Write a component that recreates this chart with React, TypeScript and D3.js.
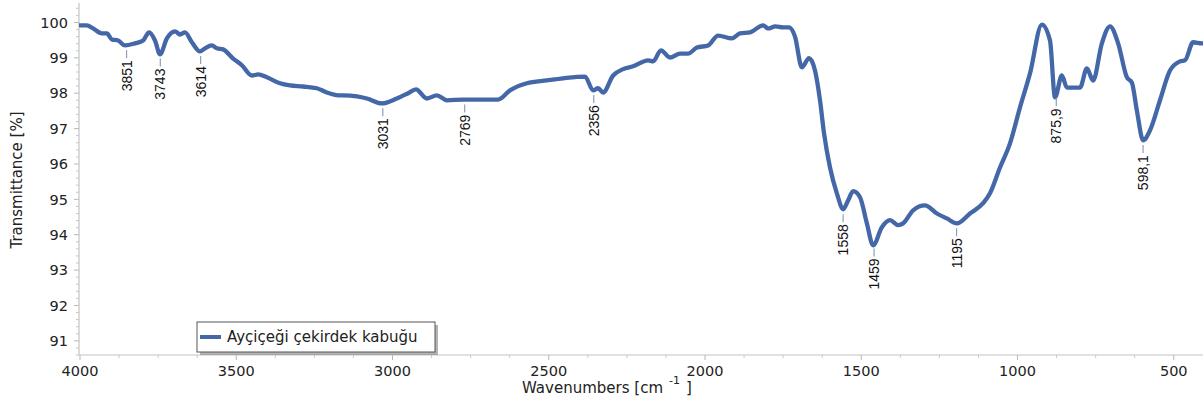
import React from "react";
import * as d3 from "d3";

const wavenumbers = [
  4000, 3978, 3958, 3930, 3914, 3898, 3878, 3856, 3824, 3798, 3779, 3760, 3744, 3722, 3696, 3680, 3664, 3642, 3616, 3600,
  3578, 3562, 3542, 3510, 3482, 3450, 3430, 3402, 3360, 3328, 3286, 3242, 3210, 3174, 3158, 3114, 3082, 3034, 2986, 2950,
  2925, 2890, 2858, 2826, 2774, 2720, 2662, 2624, 2570, 2506, 2454, 2384, 2358, 2342, 2326, 2294, 2262, 2230, 2182, 2166,
  2141, 2112, 2080, 2054, 2026, 1990, 1958, 1914, 1888, 1856, 1814, 1798, 1775, 1750, 1731, 1712, 1690, 1667, 1648, 1632,
  1619, 1600, 1578, 1558, 1542, 1526, 1504, 1482, 1462, 1434, 1408, 1382, 1366, 1334, 1296, 1258, 1226, 1194, 1152, 1110,
  1088, 1056, 1024, 992, 960, 922, 896, 880, 858, 842, 816, 800, 778, 758, 730, 704, 678, 650, 634, 618,
  598, 576, 544, 512, 480, 464, 438, 410, 400,
];
const transmittance = [
  99.92, 99.92, 99.83, 99.69, 99.69, 99.52, 99.49, 99.35, 99.41, 99.49, 99.72, 99.49, 99.1, 99.55, 99.75, 99.66, 99.72, 99.44, 99.18, 99.27,
  99.35, 99.27, 99.24, 98.98, 98.79, 98.5, 98.53, 98.45, 98.28, 98.22, 98.19, 98.14, 98.02, 97.94, 97.94, 97.91, 97.85, 97.71, 97.85, 98.0,
  98.11, 97.85, 97.94, 97.8, 97.82, 97.82, 97.82, 98.08, 98.28, 98.36, 98.42, 98.47, 98.08, 98.14, 98.02, 98.5, 98.68, 98.76, 98.93, 98.9,
  99.21, 99.01, 99.12, 99.12, 99.29, 99.35, 99.63, 99.55, 99.69, 99.72, 99.92, 99.83, 99.89, 99.86, 99.86, 99.6, 98.73, 98.99, 98.64, 97.8,
  96.86, 95.9, 95.17, 94.72, 94.97, 95.23, 95.06, 94.32, 93.7, 94.21, 94.41, 94.27, 94.32, 94.69, 94.83, 94.6, 94.46, 94.32, 94.6, 94.89,
  95.17, 95.9, 96.58, 97.6, 98.56, 99.94, 99.49, 97.88, 98.5, 98.16, 98.16, 98.16, 98.7, 98.36, 99.41, 99.89, 99.41, 98.45, 98.3, 97.51,
  96.67, 96.95, 97.8, 98.64, 98.9, 98.93, 99.44, 99.41, 99.41,
];

const peakPositions = [3851, 3743, 3614, 3031, 2769, 2356, 1558, 1459, 1195, 875.9, 598.1];
const peakLabels = ["3851", "3743", "3614", "3031", "2769", "2356", "1558", "1459", "1195", "875,9", "598,1"];

const xMajorTicks = [4000, 3500, 3000, 2500, 2000, 1500, 1000, 500];
const yMajorTicks = [91, 92, 93, 94, 95, 96, 97, 98, 99, 100];
const seriesName = "Ayçiçeği çekirdek kabuğu";

const W = 1203;
const H = 404;
const AX = "DejaVu Sans, Verdana, sans-serif";
const LINE = "#4467a8";

export default function App() {
  const x = d3.scaleLinear().domain([4000, 400]).range([80, 1205]);
  const y = d3.scaleLinear().domain([90.6, 100.55]).range([355, 3]);
  const data = wavenumbers.map((w, i) => [w, transmittance[i]] as [number, number]);
  const line = d3
    .line<[number, number]>()
    .x((d) => x(d[0]))
    .y((d) => y(d[1]))
    .curve(d3.curveMonotoneX);

  const interp = (w: number) => {
    for (let i = 0; i < wavenumbers.length - 1; i++) {
      const a = wavenumbers[i], b = wavenumbers[i + 1];
      if (w <= a && w >= b) {
        const t = (a - w) / (a - b);
        return transmittance[i] + t * (transmittance[i + 1] - transmittance[i]);
      }
    }
    return transmittance[transmittance.length - 1];
  };

  const xMinor = d3.range(4000, 399, -125).filter((v) => v % 500 !== 0);
  const yMinor = d3.range(90.6, 100.55, 0.2).map((v) => Math.round(v * 10) / 10).filter((v) => Math.abs(v - Math.round(v)) > 0.01);

  const axisX0 = 79;
  const axisY = 355;

  return (
    <svg width={W} height={H} style={{ position: "absolute", left: 0, top: 0, background: "#fff" }}>
      <defs>
        <clipPath id="plot">
          <rect x={axisX0} y={0} width={W - axisX0} height={axisY} />
        </clipPath>
      </defs>
      {/* axes */}
      <line x1={axisX0} x2={axisX0} y1={3} y2={axisY} stroke="#c4c4c4" strokeWidth={1.2} />
      <line x1={axisX0} x2={W} y1={axisY} y2={axisY} stroke="#c4c4c4" strokeWidth={1.2} />
      {yMajorTicks.map((t) => (
        <g key={"ym" + t}>
          <line x1={axisX0 - 5} x2={axisX0} y1={y(t)} y2={y(t)} stroke="#b8b8b8" />
          <text x={68} y={y(t)} dy="0.36em" textAnchor="end" fontFamily={AX} fontSize={14.5} fill="#222">
            {t}
          </text>
        </g>
      ))}
      {yMinor.map((t) => (
        <line key={"yn" + t} x1={axisX0 - 3} x2={axisX0} y1={y(t)} y2={y(t)} stroke="#c8c8c8" />
      ))}
      {xMajorTicks.map((t) => (
        <g key={"xm" + t}>
          <line x1={x(t)} x2={x(t)} y1={axisY} y2={axisY + 5} stroke="#b8b8b8" />
          <text x={x(t)} y={376} textAnchor="middle" fontFamily={AX} fontSize={14.5} fill="#222">
            {t}
          </text>
        </g>
      ))}
      {xMinor.map((t) => (
        <line key={"xn" + t} x1={x(t)} x2={x(t)} y1={axisY} y2={axisY + 3} stroke="#c8c8c8" />
      ))}
      {/* axis titles */}
      <text
        transform={`translate(22,${180}) rotate(-90)`}
        textAnchor="middle"
        fontFamily={AX}
        fontSize={15}
        fill="#222"
      >
        Transmittance [%]
      </text>
      <text x={522} y={393} fontFamily={AX} fontSize={15} fill="#222">
        Wavenumbers [cm
        <tspan dx={6} dy={-9} fontSize={11}>-1</tspan>
        <tspan dx={6} dy={9}>]</tspan>
      </text>
      {/* series */}
      <g clipPath="url(#plot)">
        <path d={line(data) || ""} fill="none" stroke={LINE} strokeWidth={4.3} strokeLinejoin="round" strokeLinecap="round" />
      </g>
      {/* peak annotations */}
      {peakPositions.map((p, i) => {
        const px = x(p);
        const py = y(interp(p)) + 5;
        return (
          <g key={"pk" + i}>
            <line x1={px} x2={px} y1={py} y2={py + 8} stroke="#8f9fb8" strokeWidth={1.2} />
            <text
              transform={`translate(${px},${py + 10}) rotate(-90)`}
              textAnchor="end"
              dy="0.36em"
              fontFamily="Liberation Sans, Arial, sans-serif"
              fontSize={14}
              fill="#111"
            >
              {peakLabels[i]}
            </text>
          </g>
        );
      })}
      {/* legend */}
      <rect x={200} y={325} width={238} height={30} fill="#777" opacity={0.55} />
      <rect x={197} y={322} width={238} height={30} fill="#fff" stroke="#555" strokeWidth={1} />
      <line x1={200} x2={221} y1={337} y2={337} stroke={LINE} strokeWidth={4} />
      <text x={227} y={337} dy="0.36em" fontFamily={AX} fontSize={15} fill="#222">
        {seriesName}
      </text>
    </svg>
  );
}
